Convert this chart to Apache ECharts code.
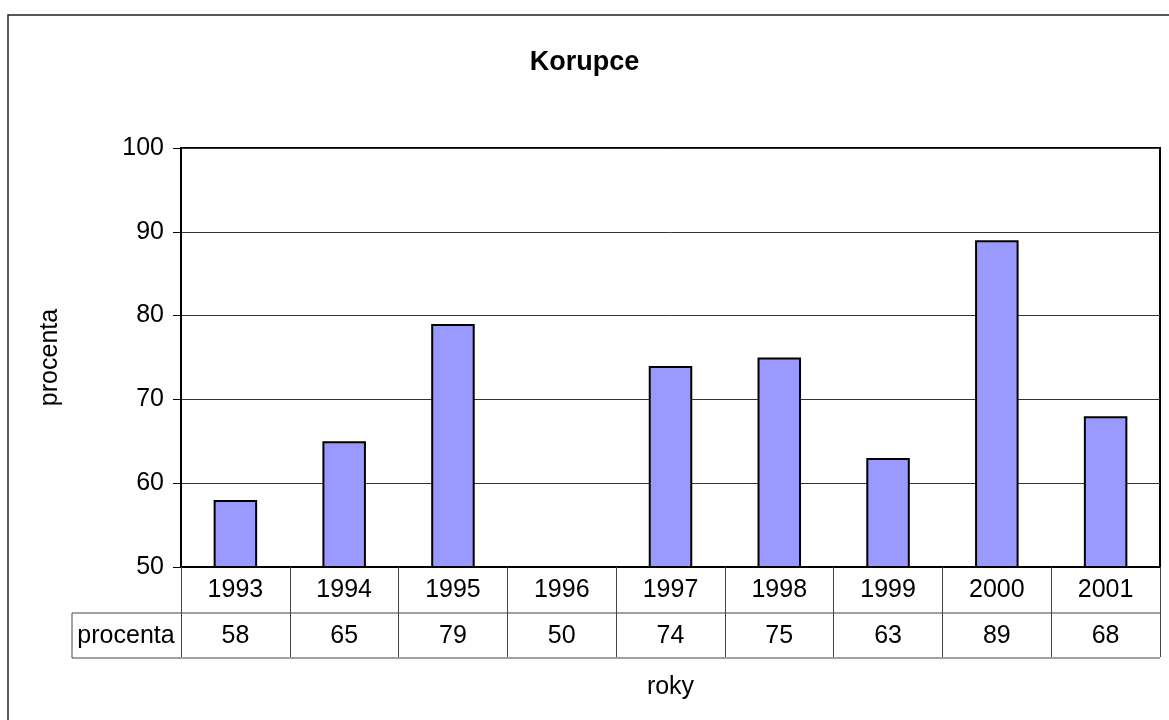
<!DOCTYPE html>
<html>
<head>
<meta charset="utf-8">
<script src="https://cdn.jsdelivr.net/npm/echarts@6/dist/echarts.min.js"></script>
<style>
  html, body { margin: 0; padding: 0; background: #fff; }
  #chart { width: 1169px; height: 720px; }
</style>
</head>
<body>
<div id="chart"></div>
<script>
// data
const years = ['1993', '1994', '1995', '1996', '1997', '1998', '1999', '2000', '2001'];
const procenta = [58, 65, 79, 50, 74, 75, 63, 89, 68];
const yTicks = [50, 60, 70, 80, 90, 100];

// plot area box (pixels)
const G = { left: 181, top: 148, right: 1160, bottom: 567 };
const rowH = 46;
const font = 'Arial, "Liberation Sans", sans-serif';

const myChart = echarts.init(document.getElementById('chart'));

const option = {
  animation: false,
  backgroundColor: '#fff',
  title: {
    text: 'Korupce',
    left: 'center',
    top: 44,
    textStyle: { fontFamily: font, fontSize: 27, fontWeight: 'bold', color: '#000' }
  },
  grid: {
    left: G.left, top: G.top, width: G.right - G.left, height: G.bottom - G.top,
    show: true, borderColor: '#000', borderWidth: 2, containLabel: false
  },
  xAxis: [
    {
      type: 'category',
      data: years,
      position: 'bottom',
      axisLine: { show: true, lineStyle: { color: '#000', width: 2 } },
      axisTick: { show: true, interval: 0, length: rowH * 2 - 2, lineStyle: { color: '#444', width: 1 } },
      axisLabel: { interval: 0, margin: 11, fontFamily: font, fontSize: 25, color: '#000' },
      splitLine: { show: false }
    },
    {
      type: 'category',
      data: procenta.map(String),
      position: 'bottom',
      offset: rowH,
      axisLine: { show: false },
      axisTick: { show: false },
      axisLabel: { interval: 0, margin: 11, fontFamily: font, fontSize: 25, color: '#000' },
      name: 'roky',
      nameLocation: 'middle',
      nameGap: 62,
      nameTextStyle: { fontFamily: font, fontSize: 25, color: '#000' }
    }
  ],
  yAxis: {
    type: 'value',
    min: yTicks[0],
    max: yTicks[yTicks.length - 1],
    interval: 10,
    name: 'procenta',
    nameLocation: 'middle',
    nameGap: 118,
    nameTextStyle: { fontFamily: font, fontSize: 25, color: '#000' },
    axisLine: { show: true, lineStyle: { color: '#000', width: 2 } },
    axisTick: { show: true, length: 8, lineStyle: { color: '#000', width: 1 } },
    axisLabel: { margin: 17, fontFamily: font, fontSize: 25, color: '#000' },
    splitLine: { show: true, lineStyle: { color: '#333', width: 1 } }
  },
  series: [
    {
      type: 'bar',
      data: procenta,
      barWidth: '40%',
      itemStyle: { color: '#9999FF', borderColor: '#000', borderWidth: 2 }
    }
  ],
  graphic: [
    // outer chart border
    { type: 'rect', shape: { x: 8, y: 15, width: 1200, height: 750 },
      style: { fill: null, stroke: '#222', lineWidth: 1.5 }, silent: true },
    // data table lines
    { type: 'line', shape: { x1: 72, y1: G.bottom + rowH, x2: G.right, y2: G.bottom + rowH },
      style: { stroke: '#444', lineWidth: 1 } },
    { type: 'line', shape: { x1: 72, y1: G.bottom + rowH * 2 - 1, x2: G.right, y2: G.bottom + rowH * 2 - 1 },
      style: { stroke: '#444', lineWidth: 1 } },
    { type: 'line', shape: { x1: 72, y1: G.bottom + rowH, x2: 72, y2: G.bottom + rowH * 2 - 1 },
      style: { stroke: '#444', lineWidth: 1 } },
    { type: 'text', x: 126, y: G.bottom + rowH * 1.5,
      style: { text: 'procenta', fontFamily: font, fontSize: 25, fill: '#000',
               align: 'center', verticalAlign: 'middle' } }
  ]
};

myChart.setOption(option);
</script>
</body>
</html>
